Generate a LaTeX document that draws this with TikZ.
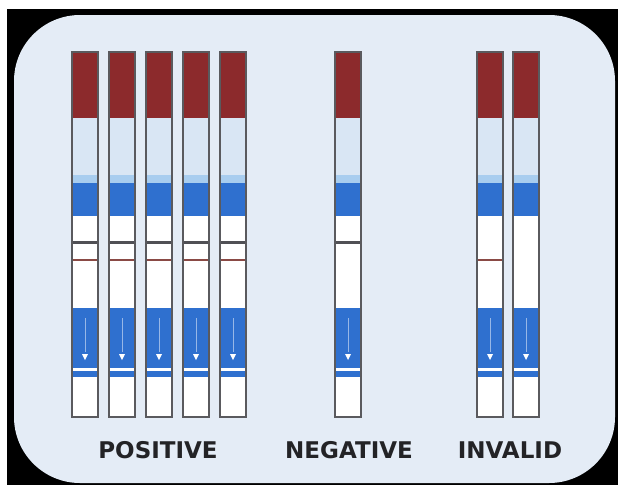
\documentclass[tikz,border=0pt]{standalone}
\usepackage{fontspec}
\newfontfamily\labelfont{DejaVu Sans}
\usetikzlibrary{arrows.meta}

\definecolor{panelblue}{HTML}{E4ECF6}
\definecolor{capred}{HTML}{8C2A2C}
\definecolor{padpale}{HTML}{D9E6F4}
\definecolor{padlight}{HTML}{A8CDEF}
\definecolor{bandblue}{HTML}{2F70CF}
\definecolor{stripedge}{HTML}{5A5A5E}
\definecolor{linegray}{HTML}{505055}
\definecolor{testred}{HTML}{8A4A45}
\definecolor{labelgray}{HTML}{232326}

\tikzset{
    % --- outline of one strip ---
    strip body/.style = {draw=stripedge, line width=1.3pt},
    % --- control and test lines in the window ---
    ctrl line/.style = {draw=linegray, line width=2.2pt},
    test line/.style = {draw=testred, line width=1.5pt},
    % --- result captions ---
    result/.style = {
        font=\labelfont\bfseries\fontsize{23}{26}\selectfont,
        text=labelgray, anchor=base, inner sep=0pt
    },
    % --- test strip, #1 = control line, #2 = test line ---
    pics/test strip/.style args={#1/#2}{code={
        \fill[white]     (0,0)   rectangle (26,365);
        \fill[capred]    (0,0)   rectangle (26,66);
        \fill[padpale]   (0,66)  rectangle (26,123);
        \fill[padlight]  (0,123) rectangle (26,131);
        \fill[bandblue]  (0,131) rectangle (26,164);
        \fill[bandblue]  (0,256) rectangle (26,316);
        \fill[bandblue]  (0,319) rectangle (26,325);
        \draw[white, opacity=0.5, line width=0.6pt] (13,266) -- (13,300);
        \fill[white] (10,302) -- (16,302) -- (13,308) -- cycle;
        \ifnum#1=1 \draw[ctrl line] (0,190.5) -- (26,190.5); \fi
        \ifnum#2=1 \draw[test line] (0,208) -- (26,208); \fi
        \draw[strip body] (0,0) rectangle (26,365);
    }}
}

\begin{document}
\begin{tikzpicture}[x=1pt, y=-1pt]

% frame and panel
\useasboundingbox (0,0) rectangle (618,485);
\fill[white] (0,0) rectangle (618,485);
\fill[black] (7,9) rectangle (618,485);
\fill[panelblue, rounded corners=66pt] (14,15) rectangle (615,483);

% positive: control and test line
\foreach \x in {72,109,146,183,220}
    \pic at (\x,52) {test strip=1/1};

% negative: control line only
\pic at (335,52) {test strip=1/0};

% invalid: no control line
\pic at (477,52) {test strip=0/1};
\pic at (513,52) {test strip=0/0};

% captions
\node[result] (PosLabel) at (158,458) {POSITIVE};
\node[result] (NegLabel) at (349,458) {NEGATIVE};
\node[result] (InvLabel) at (510,458) {INVALID};

\end{tikzpicture}
\end{document}
